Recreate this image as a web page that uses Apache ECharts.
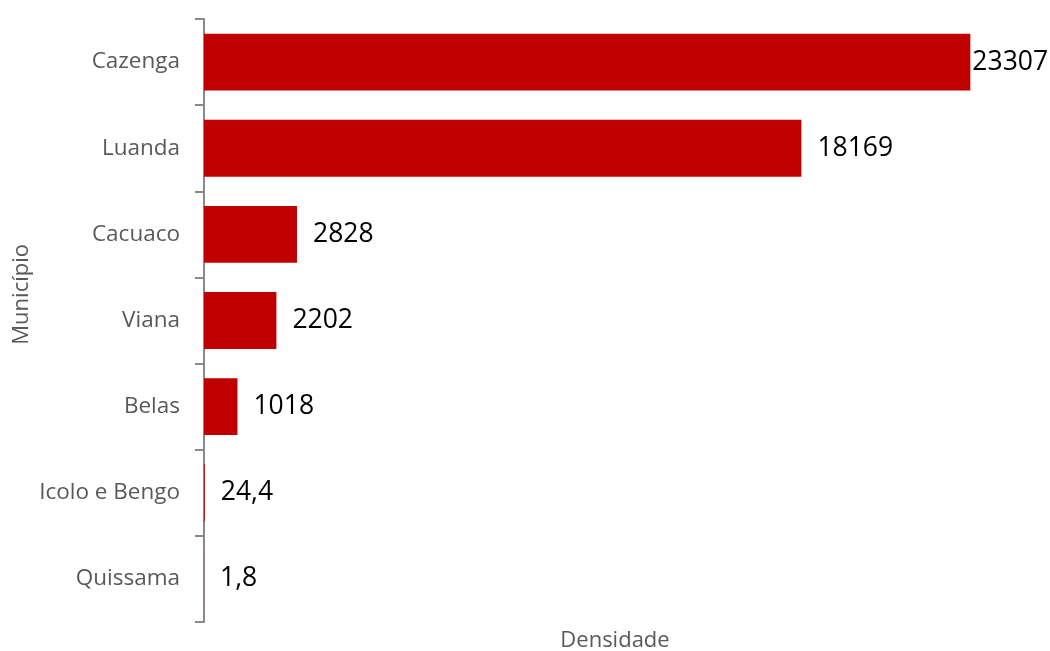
<!DOCTYPE html>
<html>
<head>
<meta charset="utf-8">
<script src="https://cdn.jsdelivr.net/npm/echarts@6/dist/echarts.min.js"></script>
<style>html,body{margin:0;padding:0;background:#fff}#c{width:1050px;height:651px}</style>
</head>
<body>
<div id="c"></div>
<script>
const categories = ["Cazenga", "Luanda", "Cacuaco", "Viana", "Belas", "Icolo e Bengo", "Quissama"];
const values = [23307, 18169, 2828, 2202, 1018, 24.4, 1.8];
const xAxisTitle = "Densidade";
const yAxisTitle = "Município";

const chart = echarts.init(document.getElementById('c'));
const fontFam = '"Open Sans", sans-serif';
chart.setOption({
  animation: false,
  grid: { left: 204, right: 24, top: 19, bottom: 29, containLabel: false, outerBoundsMode: 'none' },
  xAxis: {
    type: 'value', min: 0, max: 25000,
    axisLine: { show: false }, axisTick: { show: false }, axisLabel: { show: false },
    splitLine: { show: false },
    name: xAxisTitle, nameLocation: 'middle', nameGap: 8,
    nameTextStyle: { color: '#595959', fontSize: 22, fontFamily: fontFam }
  },
  yAxis: {
    type: 'category', data: categories, inverse: true,
    axisLine: { show: true, lineStyle: { color: '#898989', width: 2 } },
    axisTick: { show: true, length: 9, inside: false, lineStyle: { color: '#898989', width: 2 } },
    axisLabel: { color: '#595959', fontSize: 22.5, fontFamily: fontFam, margin: 24 }
  },
  graphic: [{
    type: 'text', left: 11, top: 244, rotation: Math.PI / 2,
    style: { text: yAxisTitle, fill: '#595959', font: '22px "Open Sans", sans-serif' }
  }],
  series: [{
    type: 'bar',
    data: values.map((v, i) => ({ value: v, label: { distance: i === 0 ? 2 : 16 } })),
    barCategoryGap: '34%',
    itemStyle: { color: '#C00000' },
    label: {
      show: true, position: 'right', color: '#000', fontSize: 26.5, fontFamily: fontFam,
      formatter: p => String(p.value).replace('.', ',')
    }
  }]
});
</script>
</body>
</html>
